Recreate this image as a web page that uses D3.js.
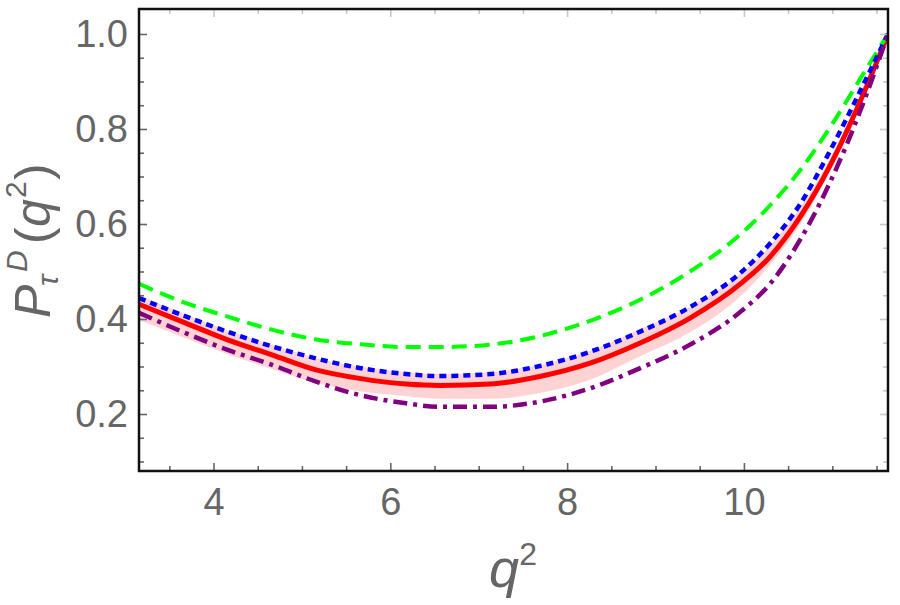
<!DOCTYPE html>
<html>
<head>
<meta charset="utf-8">
<script src="https://cdn.jsdelivr.net/npm/d3@7"></script>
<style>
  html, body { margin: 0; padding: 0; background: #fff; }
  svg { display: block; font-family: "Liberation Sans", Arial, sans-serif; }
</style>
</head>
<body>
<svg id="chart" width="900" height="605"></svg>
<script>
// ---- data ----
const q2 = [3.157, 3.65, 4.16, 4.67, 5.16, 5.65, 6.18, 6.56, 7.13, 7.69, 8.26, 8.82, 9.39, 9.96, 10.30, 10.64, 10.98, 11.32, 11.63];
const greenDashed = [0.474, 0.436, 0.405, 0.377, 0.357, 0.347, 0.341, 0.341, 0.346, 0.364, 0.396, 0.440, 0.500, 0.578, 0.640, 0.714, 0.805, 0.907, 1.0];
const blueDotted  = [0.444, 0.408, 0.373, 0.342, 0.317, 0.297, 0.284, 0.280, 0.284, 0.301, 0.331, 0.373, 0.425, 0.497, 0.560, 0.643, 0.756, 0.882, 1.0];
const redSolid    = [0.431, 0.394, 0.356, 0.324, 0.293, 0.275, 0.263, 0.260, 0.263, 0.279, 0.307, 0.349, 0.402, 0.474, 0.532, 0.616, 0.725, 0.860, 1.0];
const purpleDashDot = [0.413, 0.373, 0.335, 0.303, 0.268, 0.240, 0.2225, 0.215, 0.215, 0.226, 0.254, 0.296, 0.346, 0.415, 0.475, 0.568, 0.690, 0.840, 1.0];
const bandLower   = [0.398, 0.362, 0.326, 0.294, 0.265, 0.248, 0.238, 0.232, 0.232, 0.244, 0.272, 0.321, 0.372, 0.448, 0.515, 0.600, 0.715, 0.855, 1.0];
const bandUpper   = [0.450, 0.412, 0.376, 0.345, 0.318, 0.300, 0.288, 0.284, 0.288, 0.303, 0.333, 0.378, 0.426, 0.495, 0.555, 0.635, 0.740, 0.870, 1.0];

const xMajor = [4, 6, 8, 10];
const xMinor = [3.5, 4.5, 5, 5.5, 6.5, 7, 7.5, 8.5, 9, 9.5, 10.5, 11, 11.5];
const yMajor = [0.2, 0.4, 0.6, 0.8, 1.0];
const yMinor = [0.1, 0.15, 0.25, 0.3, 0.35, 0.45, 0.5, 0.55, 0.65, 0.7, 0.75, 0.85, 0.9, 0.95];
const xDomain = [3.157, 11.63];
const yDomain = [0.08, 1.0526];

// ---- layout ----
const L = 139, R = 888, T = 9, B = 471;
const svg = d3.select("#chart");
const x = d3.scaleLinear().domain(xDomain).range([L, R]);
const y = d3.scaleLinear().domain(yDomain).range([B, T]);

svg.append("defs").append("clipPath").attr("id", "clip")
  .append("rect").attr("x", L).attr("y", T).attr("width", R - L).attr("height", B - T);

const plot = svg.append("g").attr("clip-path", "url(#clip)");

// band
const band = q2.map((q, i) => ({ q, lo: bandLower[i], hi: bandUpper[i] }));
plot.append("path")
  .datum(band)
  .attr("fill", "#ffd3d3")
  .attr("d", d3.area().curve(d3.curveMonotoneX).x(d => x(d.q)).y0(d => y(d.lo)).y1(d => y(d.hi)));

const line = d3.line().curve(d3.curveMonotoneX).x(d => x(d.q)).y(d => y(d.v));
const mk = arr => q2.map((q, i) => ({ q, v: arr[i] }));

const series = [
  { vals: redSolid, color: "#ff0000", width: 5, dash: null },
  { vals: greenDashed, color: "#00ff00", width: 4, dash: "15,8" },
  { vals: blueDotted, color: "#0000ff", width: 4.5, dash: "7,5" },
  { vals: purpleDashDot, color: "#800080", width: 4.5, dash: "14,6,4,6" }
];
series.forEach(s => {
  plot.append("path")
    .datum(mk(s.vals))
    .attr("fill", "none")
    .attr("stroke", s.color)
    .attr("stroke-width", s.width)
    .attr("stroke-dasharray", s.dash)
    .attr("d", line);
});

// ---- axes ----
const tickColor = "#666";
const labelColor = "#666";
function styleAxis(g, color) {
  g.select(".domain").remove();
  g.selectAll(".tick line").attr("stroke", color).attr("stroke-width", 1.6);
  g.selectAll(".tick text").attr("fill", labelColor).style("font-size", "38px")
    .style("font-family", "'Liberation Sans', Arial, sans-serif");
}
// bottom
svg.append("g").attr("transform", `translate(0,${B})`)
  .call(d3.axisBottom(x).tickValues(xMinor).tickSizeInner(-5).tickSizeOuter(0).tickFormat(""))
  .call(g => styleAxis(g, tickColor));
svg.append("g").attr("transform", `translate(0,${B})`)
  .call(d3.axisBottom(x).tickValues(xMajor).tickSizeInner(-8).tickSizeOuter(0).tickPadding(17).tickFormat(d3.format("d")))
  .call(g => styleAxis(g, tickColor));
// left
svg.append("g").attr("transform", `translate(${L},0)`)
  .call(d3.axisLeft(y).tickValues(yMinor).tickSizeInner(-5).tickSizeOuter(0).tickFormat(""))
  .call(g => styleAxis(g, tickColor));
svg.append("g").attr("transform", `translate(${L},0)`)
  .call(d3.axisLeft(y).tickValues(yMajor).tickSizeInner(-8).tickSizeOuter(0).tickPadding(11).tickFormat(d3.format(".1f")))
  .call(g => styleAxis(g, tickColor));
// top and right (light, no labels)
const light = "#c8c8c8";
svg.append("g").attr("transform", `translate(0,${T})`)
  .call(d3.axisTop(x).tickValues(xMinor).tickSizeInner(-5).tickSizeOuter(0).tickFormat(""))
  .call(g => styleAxis(g, light));
svg.append("g").attr("transform", `translate(0,${T})`)
  .call(d3.axisTop(x).tickValues(xMajor).tickSizeInner(-8).tickSizeOuter(0).tickFormat(""))
  .call(g => styleAxis(g, light));
svg.append("g").attr("transform", `translate(${R},0)`)
  .call(d3.axisRight(y).tickValues(yMinor).tickSizeInner(-5).tickSizeOuter(0).tickFormat(""))
  .call(g => styleAxis(g, light));
svg.append("g").attr("transform", `translate(${R},0)`)
  .call(d3.axisRight(y).tickValues(yMajor).tickSizeInner(-8).tickSizeOuter(0).tickFormat(""))
  .call(g => styleAxis(g, light));

// frame
svg.append("rect").attr("x", L).attr("y", T).attr("width", R - L).attr("height", B - T)
  .attr("fill", "none").attr("stroke", "#111").attr("stroke-width", 2.5);

// ---- axis titles ----
const xt = svg.append("text").attr("x", 513).attr("y", 587).attr("text-anchor", "middle")
  .attr("fill", labelColor).style("font-size", "54px");
xt.append("tspan").style("font-style", "italic").text("q");
xt.append("tspan").attr("dy", -22).style("font-size", "32px").text("2");

const yt = svg.append("g").attr("transform", "translate(50,318) rotate(-90)")
  .attr("fill", labelColor);
yt.append("text").attr("x", 0).attr("y", 0).style("font-size", "50px").style("font-style", "italic").text("P");
yt.append("text").attr("x", 32).attr("y", 8).style("font-size", "30px").style("font-style", "italic").text("τ");
yt.append("text").attr("x", 46).attr("y", -23).style("font-size", "30px").style("font-style", "italic").text("D");
yt.append("text").attr("x", 74).attr("y", 0).style("font-size", "50px").text("(");
yt.append("text").attr("x", 91).attr("y", 0).style("font-size", "50px").style("font-style", "italic").text("q");
yt.append("text").attr("x", 120).attr("y", -24).style("font-size", "30px").text("2");
yt.append("text").attr("x", 138).attr("y", 0).style("font-size", "50px").text(")");
</script>
</body>
</html>
